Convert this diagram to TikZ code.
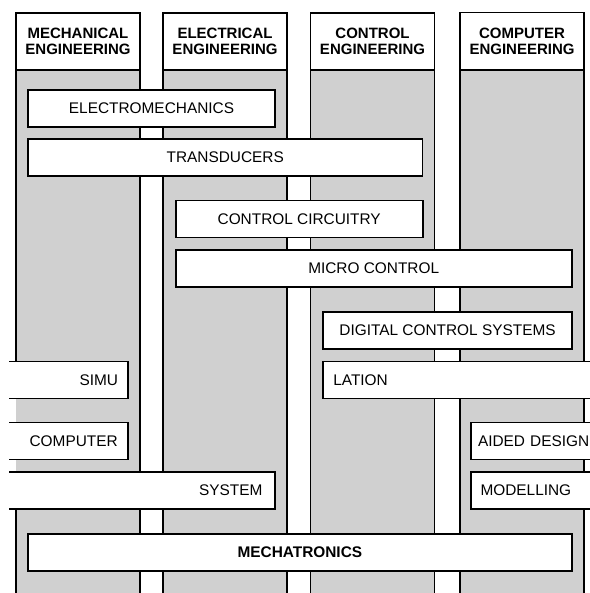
\documentclass[tikz,border=0pt]{standalone}
\usepackage{fontspec}
\setmainfont{Liberation Sans}
\definecolor{colgrey}{HTML}{D0D0D0}
\begin{document}
\begin{tikzpicture}[x=1pt,y=-1pt,
  lw/.style={line width=1.7pt},
  colbody/.style={lw,draw=black,fill=colgrey},
  header/.style={lw,draw=black,fill=white,anchor=north west,minimum width=124pt,minimum height=57pt,inner sep=0pt,outer sep=0pt,align=center,font=\fontsize{15}{16}\selectfont\bfseries},
  box/.style={lw,draw=black,fill=white,anchor=north west,inner sep=0pt,outer sep=0pt,minimum height=37pt,font=\fontsize{15.4}{17}\selectfont},
  openbox/.style={fill=white,anchor=north west,inner ysep=0pt,outer sep=0pt,minimum height=37pt,font=\fontsize{15.4}{17}\selectfont},
  edge/.style={lw,line cap=rect}
]
\useasboundingbox (0,0) rectangle (589,593);
\fill[white] (0,0) rectangle (589,593);
% columns
\fill[colgrey] (16,70) rectangle (140,600);
\draw[lw] (16,600) -- (16,509) (16,362) -- (16,70) -- (140,70) -- (140,600);
\draw[colbody] (163,70) rectangle (287,600);
\draw[colbody] (310.5,70) rectangle (434.5,600);
\draw[colbody] (460,70) rectangle (584,600);
% headers
\node[header] (hme) at (16,13) {MECHANICAL\\ENGINEERING};
\node[header] (hee) at (163,13) {ELECTRICAL\\ENGINEERING};
\node[header] (hce) at (310.5,13) {CONTROL\\ENGINEERING};
\node[header] (hcp) at (460,12.5) {COMPUTER\\ENGINEERING};
% closed boxes
\node[box,minimum width=247pt] (em) at (28,90) {ELECTROMECHANICS};
\node[box,minimum width=394.5pt] (tr) at (28,139) {TRANSDUCERS};
\node[box,minimum width=247pt] (cc) at (175.7,200.5) {CONTROL CIRCUITRY};
\node[box,minimum width=396pt] (mc) at (175.7,250) {MICRO CONTROL};
\node[box,minimum width=248.5pt] (dcs) at (323.3,312) {DIGITAL CONTROL SYSTEMS};
\node[box,minimum width=543.7pt,font=\fontsize{15.4}{17}\selectfont\bfseries] (mech) at (28,534) {MECHATRONICS};
% boxes open on the left
\node[openbox,inner xsep=10pt,text width=98pt,align=right] (simu) at (10,361.5) {SIMU};
\node[openbox,inner xsep=10pt,text width=97.7pt,align=right] (comp) at (10,422.5) {COMPUTER};
\node[openbox,inner xsep=12.5pt,text width=240pt,align=right] (sys) at (10,472) {SYSTEM};
% boxes open on the right
\node[openbox,inner xsep=10pt,text width=245.7pt,align=left] (lat) at (323.3,361.5) {LATION};
\node[openbox,inner xsep=7pt,text width=130pt,align=left] (aid) at (471,422.5) {\mbox{AIDED DESIGN}};
\node[openbox,inner xsep=9.5pt,text width=128pt,align=left] (mod) at (471,472) {MODELLING};
% borders of open boxes
\draw[edge] (simu.north west) -- (simu.north east) -- (simu.south east) -- (simu.south west);
\draw[edge] (comp.north west) -- (comp.north east) -- (comp.south east) -- (comp.south west);
\draw[edge] (sys.north west) -- (sys.north east) -- (sys.south east) -- (sys.south west);
\draw[edge] ([xshift=3pt]lat.north east) -- (lat.north west) -- (lat.south west) -- ([xshift=3pt]lat.south east);
\draw[edge] (aid.north east) -- (aid.north west) -- (aid.south west) -- (aid.south east);
\draw[edge] (mod.north east) -- (mod.north west) -- (mod.south west) -- (mod.south east);
\end{tikzpicture}
\end{document}
